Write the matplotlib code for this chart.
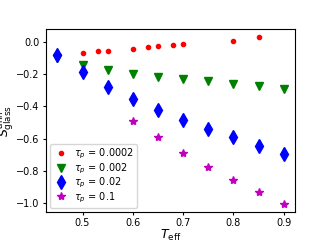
import numpy as np
import matplotlib
matplotlib.use('Agg')
import matplotlib.pyplot as plt

# tau_p = 0.0002
t_red = [0.50, 0.53, 0.55, 0.60, 0.63, 0.65, 0.68, 0.70, 0.80, 0.85]
s_red = [-0.066, -0.057, -0.053, -0.041, -0.033, -0.025, -0.016, -0.012, 0.008, 0.029]

# tau_p = 0.002
t_green = [0.45, 0.50, 0.55, 0.60, 0.65, 0.70, 0.75, 0.80, 0.85, 0.90]
s_green = [-0.10, -0.14, -0.174, -0.197, -0.217, -0.23, -0.242, -0.258, -0.275, -0.293]

# tau_p = 0.02
t_blue = [0.45, 0.50, 0.55, 0.60, 0.65, 0.70, 0.75, 0.80, 0.85, 0.90]
s_blue = [-0.078, -0.184, -0.279, -0.357, -0.422, -0.484, -0.543, -0.592, -0.645, -0.697]

# tau_p = 0.1
t_mag = [0.60, 0.65, 0.70, 0.75, 0.80, 0.85, 0.90]
s_mag = [-0.488, -0.59, -0.689, -0.775, -0.857, -0.934, -1.004]

fig = plt.figure(figsize=(3.2, 2.4), dpi=100)
ax = fig.add_axes([0.144, 0.117, 0.778, 0.762])

ax.plot(t_red, s_red, 'o', color='red', markersize=3, label=r'$\tau_p$ = 0.0002')
ax.plot(t_green, s_green, 'v', color='green', markersize=6, label=r'$\tau_p$ = 0.002')
ax.plot(t_blue, s_blue, 'd', color='blue', markersize=7, label=r'$\tau_p$ = 0.02')
ax.plot(t_mag, s_mag, '*', color='m', markersize=6, label=r'$\tau_p$ = 0.1')

ax.set_xlabel(r'$T_{\rm eff}$', fontsize=9, labelpad=0)
ax.set_ylabel(r'$S_{\rm glass}^{\rm anh}$', fontsize=9, labelpad=0)
ax.set_xticks([0.5, 0.6, 0.7, 0.8, 0.9])
ax.set_yticks([0.0, -0.2, -0.4, -0.6, -0.8, -1.0])
ax.tick_params(labelsize=7, length=2.5, pad=2)
ax.legend(loc='lower left', fontsize=7, handletextpad=0.5, borderpad=0.35,
          labelspacing=0.0, handlelength=1.6, borderaxespad=0.4)

fig.savefig('out.png', dpi=100)
